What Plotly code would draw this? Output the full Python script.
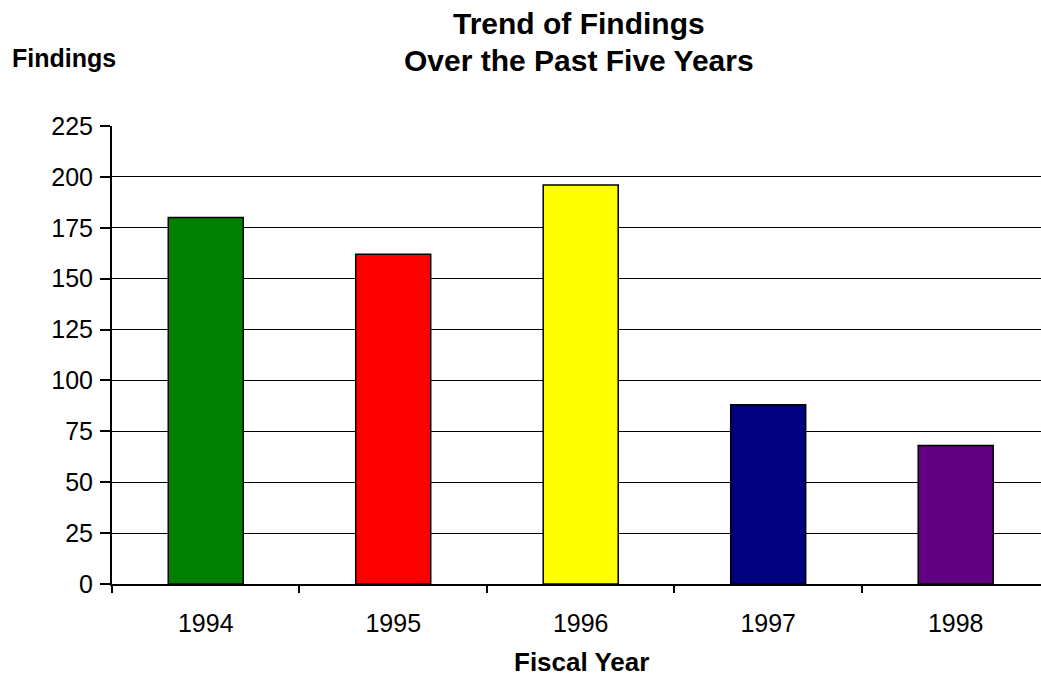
import plotly.graph_objects as go

years = ["1994", "1995", "1996", "1997", "1998"]
findings = [180, 162, 196, 88, 68]
bar_colors = ["#008000", "#FF0000", "#FFFF00", "#000080", "#600080"]
y_ticks = [0, 25, 50, 75, 100, 125, 150, 175, 200, 225]

FONT = "Liberation Sans, Arial, sans-serif"

fig = go.Figure(
    go.Bar(
        x=years,
        y=findings,
        marker=dict(color=bar_colors, line=dict(color="black", width=1.5)),
        width=0.4,
    )
)

def ann(text, x, yshift, size, xanchor="center"):
    return dict(
        text=text, xref="paper", yref="paper", x=x, y=1.0,
        xanchor=xanchor, yanchor="middle", yshift=yshift,
        showarrow=False, font=dict(family=FONT, size=size, color="black"),
    )

fig.update_layout(
    width=1041,
    height=679,
    margin=dict(l=112, r=0, t=126, b=95, pad=0),
    plot_bgcolor="white",
    paper_bgcolor="white",
    font=dict(family=FONT, color="black", size=25),
    showlegend=False,
    annotations=[
        ann("<b>Trend of Findings</b>", 0.5030, 103, 30),
        ann("<b>Over the Past Five Years</b>", 0.5030, 66, 30),
        ann("<b>Findings</b>", -0.1098, 68, 25, xanchor="left"),
        dict(
            text="<b>Fiscal Year</b>",
            xref="paper", yref="paper",
            x=0.5051, y=0, xanchor="center", yanchor="middle",
            yshift=-78,
            showarrow=False,
            font=dict(family=FONT, size=26, color="black"),
        ),
    ],
)

fig.update_xaxes(
    type="category",
    range=[-0.5, 4.455],
    showline=True,
    linecolor="black",
    linewidth=2,
    ticks="outside",
    tickson="boundaries",
    ticklen=7,
    tickwidth=2,
    tickcolor="black",
    showgrid=False,
    zeroline=False,
    ticklabelstandoff=16,
    tickfont=dict(family=FONT, size=25, color="black"),
)

fig.update_yaxes(
    range=[0, 225],
    tickvals=y_ticks,
    showline=True,
    linecolor="black",
    linewidth=2,
    ticks="outside",
    ticklen=10,
    tickwidth=2,
    tickcolor="black",
    showgrid=True,
    gridcolor="black",
    gridwidth=1,
    zeroline=False,
    ticklabelstandoff=2,
    tickfont=dict(family=FONT, size=25, color="black"),
)

fig.write_html("out.html")
